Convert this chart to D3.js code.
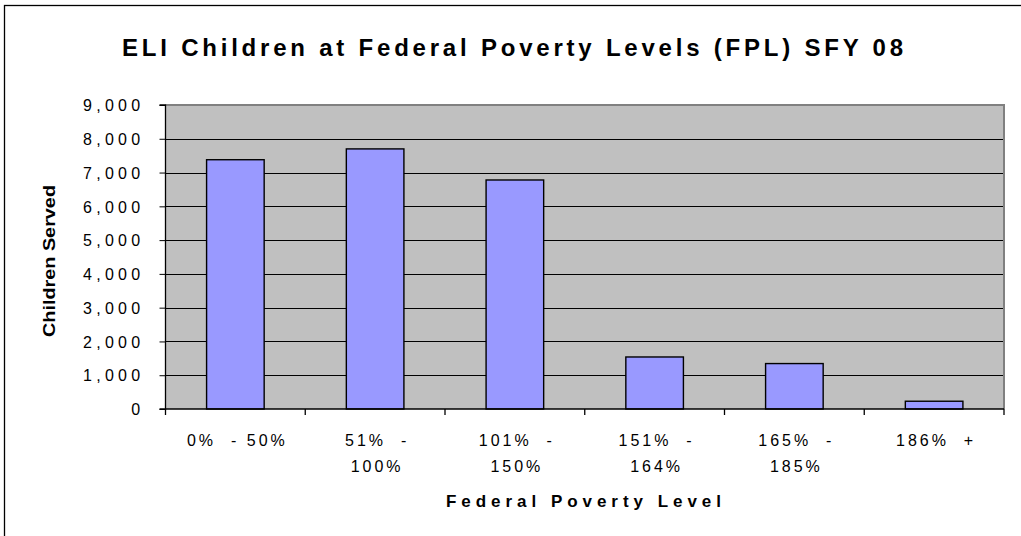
<!DOCTYPE html>
<html><head><meta charset="utf-8">
<script src="https://cdn.jsdelivr.net/npm/d3@7"></script>
<style>html,body{margin:0;padding:0;background:#fff;}svg{display:block;}</style>
</head><body>
<script>
const categories = ["0% - 50%", "51% - 100%", "101% - 150%", "151% - 164%", "165% - 185%", "186% +"];
const labelLines = [["0%  - 50%"], ["51%  -", "100%"], ["101%  -", "150%"], ["151%  -", "164%"], ["165%  -", "185%"], ["186%  +"]];
const values = [7380, 7700, 6780, 1540, 1345, 230];
const yTicks = [0, 1000, 2000, 3000, 4000, 5000, 6000, 7000, 8000, 9000];
const titleText = "ELI Children at Federal Poverty Levels (FPL) SFY 08";
const xTitle = "Federal Poverty Level";
const yTitle = "Children Served";

const W = 1021, H = 536;
const m = {left: 165.5, right: 1004, top: 105, bottom: 409};
const svg = d3.select("body").append("svg").attr("width", W).attr("height", H)
  .style("font-family", "'Liberation Sans', Arial, sans-serif");
svg.append("rect").attr("width", W).attr("height", H).attr("fill", "#fff");
svg.append("rect").attr("x", 4.5).attr("y", 5.5).attr("width", 3000).attr("height", 3000)
  .attr("fill", "none").attr("stroke", "#000").attr("stroke-width", 1.3);

const pad = 0.588;
const x = d3.scaleBand().domain(categories).range([m.left, m.right]).paddingInner(pad).paddingOuter(pad / 2);
const y = d3.scaleLinear().domain([0, 9000]).range([m.bottom, m.top]);

// plot area
svg.append("rect").attr("x", m.left).attr("y", m.top).attr("width", m.right - m.left).attr("height", m.bottom - m.top)
  .attr("fill", "#C0C0C0");
svg.append("path").attr("d", `M${m.left},${m.top}H${m.right}V${m.bottom}`).attr("fill", "none")
  .attr("stroke", "#808080").attr("stroke-width", 2);

// gridlines
svg.append("g").selectAll("line").data(yTicks.filter(d => d > 0 && d < 9000)).join("line")
  .attr("x1", m.left).attr("x2", m.right - 1).attr("y1", d => Math.round(y(d)) + 0.5).attr("y2", d => Math.round(y(d)) + 0.5)
  .attr("stroke", "#000").attr("stroke-width", 1);

// bars
svg.append("g").selectAll("rect").data(values).join("rect")
  .attr("x", (d, i) => x(categories[i])).attr("width", x.bandwidth())
  .attr("y", d => y(d)).attr("height", d => y(0) - y(d))
  .attr("fill", "#9999FF").attr("stroke", "#000").attr("stroke-width", 1.4);

// y axis
const yAxis = d3.axisLeft(y).tickValues(yTicks).tickSize(6).tickPadding(19).tickFormat(d3.format(","));
const ya = svg.append("g").attr("transform", `translate(${m.left},0)`).call(yAxis);
ya.select(".domain").attr("stroke", "#000").attr("stroke-width", 1.3).attr("d", `M-6,${m.top}H0V${m.bottom}H-6`);
ya.selectAll(".tick line").attr("stroke", "#000");
ya.selectAll(".tick text").attr("font-size", 16).attr("fill", "#000").style("letter-spacing", "4.3px")
  .attr("font-family", "'Liberation Sans', Arial, sans-serif").attr("dy", "0.36em").attr("dx", "4px");

// x axis
const step = x.step();
const bounds = d3.range(categories.length + 1).map(i => m.left + i * step);
svg.append("line").attr("x1", m.left).attr("x2", m.right).attr("y1", m.bottom).attr("y2", m.bottom)
  .attr("stroke", "#000").attr("stroke-width", 1.3);
svg.append("g").selectAll("line").data(bounds).join("line")
  .attr("x1", d => d).attr("x2", d => d).attr("y1", m.bottom).attr("y2", m.bottom + 6)
  .attr("stroke", "#000").attr("stroke-width", 1.3);

const xl = svg.append("g").selectAll("text").data(categories).join("text")
  .attr("x", d => x(d) + x.bandwidth() / 2 + 2).attr("y", 446)
  .attr("text-anchor", "middle").attr("font-size", 16).style("letter-spacing", "3px").style("white-space", "pre");
xl.each(function(d, i) {
  const t = d3.select(this);
  labelLines[i].forEach((ln, j) => {
    t.append("tspan").attr("x", x(d) + x.bandwidth() / 2 + 2).attr("dy", j === 0 ? 0 : 26).text(ln);
  });
});

// titles
svg.append("text").attr("x", 122).attr("y", 56).attr("font-size", 24).attr("font-weight", "bold")
  .attr("textLength", 781).attr("lengthAdjust", "spacing").text(titleText);
svg.append("text").attr("x", 446).attr("y", 507).attr("font-size", 17).attr("font-weight", "bold")
  .attr("textLength", 275).attr("lengthAdjust", "spacing").text(xTitle);
svg.append("text").attr("transform", `translate(55,${(m.top + m.bottom) / 2 + 4}) rotate(-90)`)
  .attr("text-anchor", "middle").attr("font-size", 17).attr("font-weight", "bold").attr("textLength", 152)
  .attr("lengthAdjust", "spacingAndGlyphs").text(yTitle);
</script>
</body></html>
